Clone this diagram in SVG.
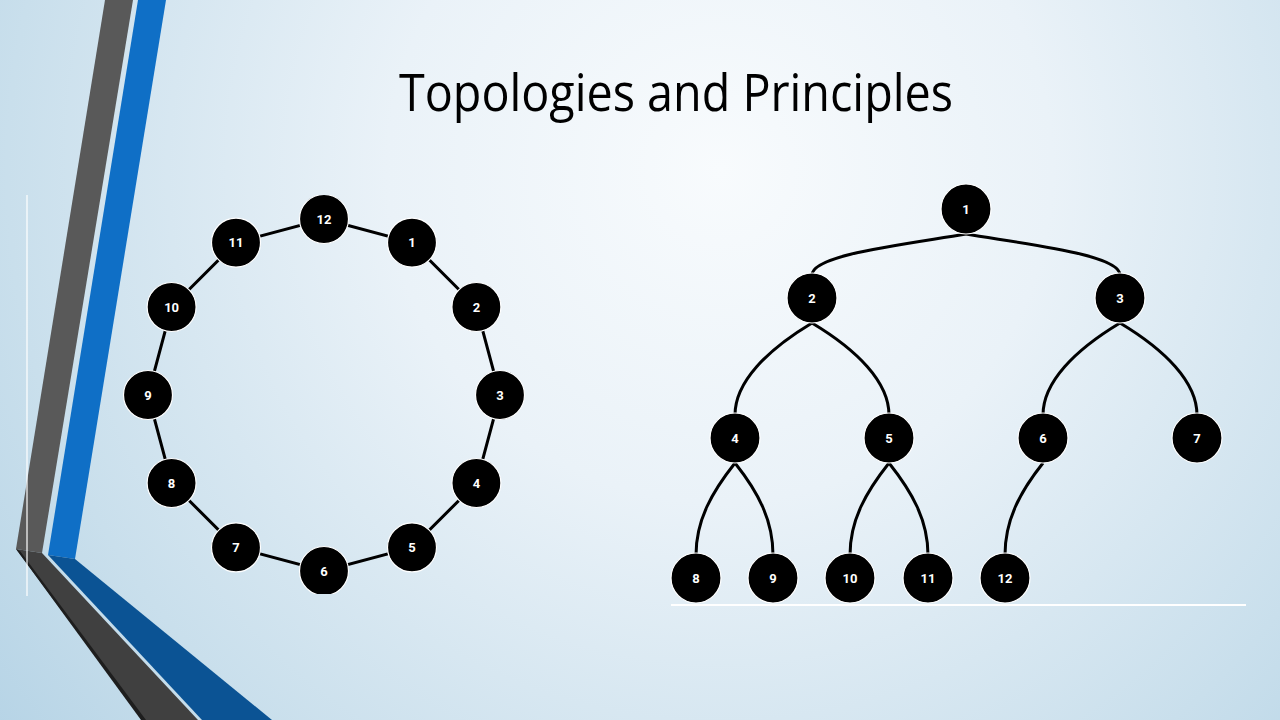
<svg xmlns="http://www.w3.org/2000/svg" width="1280" height="720" viewBox="0 0 1280 720">
  <defs>
    <radialGradient id="bg" cx="720" cy="170" r="950" gradientUnits="userSpaceOnUse">
      <stop offset="0" stop-color="#f8fbfd"/>
      <stop offset="0.35" stop-color="#eaf2f8"/>
      <stop offset="0.75" stop-color="#c9dfec"/>
      <stop offset="1" stop-color="#b3d2e5"/>
    </radialGradient>
    <clipPath id="ringClip">
      <rect x="27" y="195" width="600" height="399"/>
    </clipPath>
    <style>
      .node circle { fill: #000; stroke: #ffffff; stroke-width: 1.2; }
      .node text { fill: #fff; font-family: Roboto, "Liberation Sans", Arial, sans-serif; font-weight: bold; font-size: 13px; text-anchor: middle; dominant-baseline: central; }
      .edge { stroke: #000; stroke-width: 3; fill: none; }
      .tedge { stroke: #000; stroke-width: 3; fill: none; }
    </style>
  </defs>

  <rect width="1280" height="720" fill="url(#bg)"/>

  <g id="decoration">
    <polygon points="105,0 133,0 42,553 16,549" fill="#595959"/>
    <polygon points="16,549 42,553 198,720 143,720" fill="#404040"/>
    <polygon points="16,549 20,551 146,720 141,720" fill="#1e1e1e"/>
    <polygon points="138,0 166,0 75,559 48,555" fill="#0f6fc6"/>
    <polygon points="48,555 75,559 272,720 202,720" fill="#0b5394"/>
    <line x1="27" y1="195" x2="27" y2="596" stroke="#ffffff" stroke-width="1.2"/>
  </g>

  <text id="title" x="676" y="111" font-family="'Open Sans', 'Noto Sans', sans-serif" font-weight="normal" font-size="51" fill="#000" text-anchor="middle" textLength="554" lengthAdjust="spacingAndGlyphs">Topologies and Principles</text>

  <g clip-path="url(#ringClip)">
    <g id="ring-connectors">
      <polygon class="edge" points="324,219 412,242.6 476.4,307 500,395 476.4,483 412,547.4 324,571 236,547.4 171.6,483 148,395 171.6,307 236,242.6"/>
    </g>
    <g id="ring-12" class="node"><circle cx="324" cy="219" r="24.5"/><text x="324" y="219">12</text></g>
    <g id="ring-1" class="node"><circle cx="412" cy="242.6" r="24.5"/><text x="412" y="242.6">1</text></g>
    <g id="ring-2" class="node"><circle cx="476.4" cy="307" r="24.5"/><text x="476.4" y="307">2</text></g>
    <g id="ring-3" class="node"><circle cx="500" cy="395" r="24.5"/><text x="500" y="395">3</text></g>
    <g id="ring-4" class="node"><circle cx="476.4" cy="483" r="24.5"/><text x="476.4" y="483">4</text></g>
    <g id="ring-5" class="node"><circle cx="412" cy="547.4" r="24.5"/><text x="412" y="547.4">5</text></g>
    <g id="ring-6" class="node"><circle cx="324" cy="571" r="24.5"/><text x="324" y="571">6</text></g>
    <g id="ring-7" class="node"><circle cx="236" cy="547.4" r="24.5"/><text x="236" y="547.4">7</text></g>
    <g id="ring-8" class="node"><circle cx="171.6" cy="483" r="24.5"/><text x="171.6" y="483">8</text></g>
    <g id="ring-9" class="node"><circle cx="148" cy="395" r="24.5"/><text x="148" y="395">9</text></g>
    <g id="ring-10" class="node"><circle cx="171.6" cy="307" r="24.5"/><text x="171.6" y="307">10</text></g>
    <g id="ring-11" class="node"><circle cx="236" cy="242.6" r="24.5"/><text x="236" y="242.6">11</text></g>
  </g>

  <g id="tree-connectors">
    <path class="tedge" d="M966,234 C900,245 812,255 812,275"/>
    <path class="tedge" d="M966,234 C1032,245 1120,255 1120,275"/>
    <path class="tedge" d="M812,323 C767,350 735,382 735,415"/>
    <path class="tedge" d="M812,323 C857,350 889,382 889,415"/>
    <path class="tedge" d="M1120,323 C1075,350 1043,382 1043,415"/>
    <path class="tedge" d="M1120,323 C1165,350 1197,382 1197,415"/>
    <path class="tedge" d="M735,463 C712,492 696,520 696,555"/>
    <path class="tedge" d="M735,463 C758,492 773,520 773,555"/>
    <path class="tedge" d="M889,463 C866,492 850,520 850,555"/>
    <path class="tedge" d="M889,463 C912,492 928,520 928,555"/>
    <path class="tedge" d="M1043,463 C1020,492 1005,520 1005,555"/>
  </g>

  <g id="tree-1" class="node"><circle cx="966" cy="209" r="25"/><text x="966" y="209">1</text></g>
  <g id="tree-2" class="node"><circle cx="812" cy="298" r="25"/><text x="812" y="298">2</text></g>
  <g id="tree-3" class="node"><circle cx="1120" cy="298" r="25"/><text x="1120" y="298">3</text></g>
  <g id="tree-4" class="node"><circle cx="735" cy="438" r="25"/><text x="735" y="438">4</text></g>
  <g id="tree-5" class="node"><circle cx="889" cy="438" r="25"/><text x="889" y="438">5</text></g>
  <g id="tree-6" class="node"><circle cx="1043" cy="438" r="25"/><text x="1043" y="438">6</text></g>
  <g id="tree-7" class="node"><circle cx="1197" cy="438" r="25"/><text x="1197" y="438">7</text></g>
  <g id="tree-8" class="node"><circle cx="696" cy="578" r="25"/><text x="696" y="578">8</text></g>
  <g id="tree-9" class="node"><circle cx="773" cy="578" r="25"/><text x="773" y="578">9</text></g>
  <g id="tree-10" class="node"><circle cx="850" cy="578" r="25"/><text x="850" y="578">10</text></g>
  <g id="tree-11" class="node"><circle cx="928" cy="578" r="25"/><text x="928" y="578">11</text></g>
  <g id="tree-12" class="node"><circle cx="1005" cy="578" r="25"/><text x="1005" y="578">12</text></g>

  <line id="baseline" x1="671" y1="605" x2="1246" y2="605" stroke="#ffffff" stroke-width="2"/>
</svg>
